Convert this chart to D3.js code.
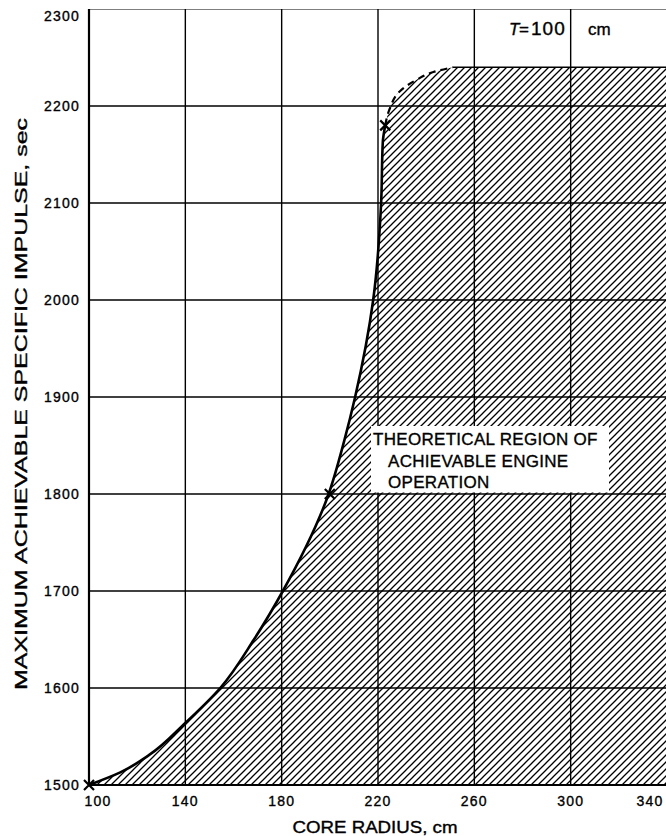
<!DOCTYPE html>
<html>
<head>
<meta charset="utf-8">
<script src="https://cdn.jsdelivr.net/npm/d3@7"></script>
<style>
  html, body { margin: 0; padding: 0; background: #fff; }
  svg { display: block; }
  text { font-family: "Liberation Sans", "DejaVu Sans", sans-serif; fill: #000; stroke: #000; stroke-width: 0.35px; }
</style>
</head>
<body>
<svg id="chart" width="666" height="836"></svg>
<script>
// ---- data ----
const xTicks = [100, 140, 180, 220, 260, 300, 340];
const yTicks = [1500, 1600, 1700, 1800, 1900, 2000, 2100, 2200, 2300];
// solid boundary: core radius (cm) vs max specific impulse (sec)
const solidRadius  = [100, 113, 125, 140, 154.5, 168.5, 180.5, 199.5, 206, 210.5, 218, 221.3, 222, 223];
const solidImpulse = [1500, 1513, 1531, 1564, 1600, 1650, 1700, 1800, 1855, 1900, 2000, 2100, 2163, 2180];
// dashed extrapolation to plateau
const dashRadius  = [223, 225, 229, 236, 243, 251];
const dashImpulse = [2180, 2198, 2215, 2227, 2235, 2240];
const plateauRadius = [251, 340];
const plateauImpulse = [2240, 2240];
// marked points (x)
const markRadius  = [100, 200, 223];
const markImpulse = [1500, 1800, 2180];
const regionLabel = ["THEORETICAL REGION OF", "ACHIEVABLE ENGINE", "OPERATION"];
const xTitle = "CORE RADIUS, cm";
const yTitle = "MAXIMUM ACHIEVABLE SPECIFIC IMPULSE, sec";

// ---- layout ----
const svg = d3.select("#chart");
const x = d3.scaleLinear().domain([100, 340]).range([89, 667]);
const y = d3.scaleLinear().domain([1500, 2300]).range([785, 9]);

const defs = svg.append("defs");
const pat = defs.append("pattern")
  .attr("id", "hatch").attr("patternUnits", "userSpaceOnUse")
  .attr("width", 7).attr("height", 7);
pat.append("path")
  .attr("d", "M-1,1 l2,-2 M0,7 l7,-7 M6,8 l2,-2")
  .attr("stroke", "#000").attr("stroke-width", 1.3);

defs.append("clipPath").attr("id", "plotclip")
  .append("rect").attr("x", x(100)).attr("y", y(2300))
  .attr("width", x(340) - x(100)).attr("height", y(1500) - y(2300));

const zip = (a, b) => a.map((v, i) => [v, b[i]]);
const solidPts = zip(solidRadius, solidImpulse);
const dashPts = zip(dashRadius, dashImpulse);
const plateauPts = zip(plateauRadius, plateauImpulse);

const lineY = d3.line().x(d => x(d[0])).y(d => y(d[1])).curve(d3.curveMonotoneY);
const lineL = d3.line().x(d => x(d[0])).y(d => y(d[1]));

// hatched region
const boundary = solidPts.concat(dashPts.slice(1));
const areaPath = lineY(boundary) + "L" + x(340) + "," + y(2240) + "L" + x(340) + "," + y(1500) + "L" + x(100) + "," + y(1500) + "Z";
const g = svg.append("g").attr("clip-path", "url(#plotclip)");
g.append("path").attr("d", areaPath).attr("fill", "url(#hatch)");

// grid
g.selectAll(".vg").data(xTicks.slice(1)).join("line")
  .attr("x1", d => x(d)).attr("x2", d => x(d))
  .attr("y1", y(2300)).attr("y2", y(1500))
  .attr("stroke", "#000").attr("stroke-width", 1.4);
g.selectAll(".hg").data(yTicks.slice(1)).join("line")
  .attr("x1", x(100)).attr("x2", x(340))
  .attr("y1", d => y(d)).attr("y2", d => y(d))
  .attr("stroke", "#000").attr("stroke-width", d => d === 2300 ? 1.1 : 1.4);

// axes lines
svg.append("line").attr("x1", x(100)).attr("x2", x(100)).attr("y1", y(2300)).attr("y2", y(1500))
  .attr("stroke", "#000").attr("stroke-width", 2.2);
svg.append("line").attr("x1", x(100)).attr("x2", x(340)).attr("y1", y(1500)).attr("y2", y(1500))
  .attr("stroke", "#000").attr("stroke-width", 2.2);

// boundary curve
g.append("path").attr("d", lineY(solidPts)).attr("fill", "none")
  .attr("stroke", "#000").attr("stroke-width", 2.6);
g.append("path").attr("d", lineY(dashPts)).attr("fill", "none")
  .attr("stroke", "#000").attr("stroke-width", 2.2).attr("stroke-dasharray", "7,5");
g.append("path").attr("d", lineL(plateauPts)).attr("fill", "none")
  .attr("stroke", "#000").attr("stroke-width", 1.6);

// markers
const ms = 5;
svg.selectAll(".mk").data(zip(markRadius, markImpulse)).join("path")
  .attr("d", d => {
    const cx = x(d[0]), cy = y(d[1]);
    return `M${cx - ms},${cy - ms}L${cx + ms},${cy + ms}M${cx - ms},${cy + ms}L${cx + ms},${cy - ms}`;
  })
  .attr("stroke", "#000").attr("stroke-width", 2.2).attr("fill", "none");

// label box
const bx = 371, bw = 238, by = 426;
svg.append("rect").attr("x", bx).attr("y", by).attr("width", bw)
  .attr("height", y(1800) - by - 1.5).attr("fill", "#fff");
const lbl = svg.append("text").attr("font-size", 17).attr("letter-spacing", 0.3);
lbl.append("tspan").attr("x", 373).attr("y", 445).text(regionLabel[0]);
lbl.append("tspan").attr("x", 388).attr("y", 467).text(regionLabel[1]);
lbl.append("tspan").attr("x", 388).attr("y", 488).text(regionLabel[2]);

// T = 100 cm
const tl = svg.append("text").attr("y", 35).attr("font-size", 17);
tl.append("tspan").attr("x", 509).attr("font-style", "italic").text("T");
tl.append("tspan").attr("x", 519).text("=");
tl.append("tspan").attr("x", 531).attr("font-size", 19).attr("letter-spacing", 1).text("100");
tl.append("tspan").attr("x", 588).text("cm");

// tick labels
svg.selectAll(".yt").data(yTicks).join("text")
  .attr("x", 80).attr("y", d => y(d) + (d === 2300 ? 7 : 0)).attr("dy", "0.36em")
  .attr("text-anchor", "end").attr("font-size", 14).attr("letter-spacing", 1.2)
  .attr("font-family", "DejaVu Sans").text(d => d);
svg.selectAll(".xt").data(xTicks).join("text")
  .attr("x", d => x(d) + (d === 100 ? 9 : d === 340 ? -17 : 0)).attr("y", 806)
  .attr("text-anchor", "middle").attr("font-size", 14).attr("letter-spacing", 1.2)
  .attr("font-family", "DejaVu Sans").text(d => d);

// axis titles
svg.append("text").attr("x", 375).attr("y", 833).attr("text-anchor", "middle")
  .attr("font-size", 16).attr("textLength", 165).attr("lengthAdjust", "spacingAndGlyphs")
  .text(xTitle);
svg.append("text").attr("transform", "translate(27,404) rotate(-90)")
  .attr("text-anchor", "middle").attr("font-size", 17)
  .attr("textLength", 572).attr("lengthAdjust", "spacingAndGlyphs")
  .text(yTitle);
</script>
</body>
</html>
